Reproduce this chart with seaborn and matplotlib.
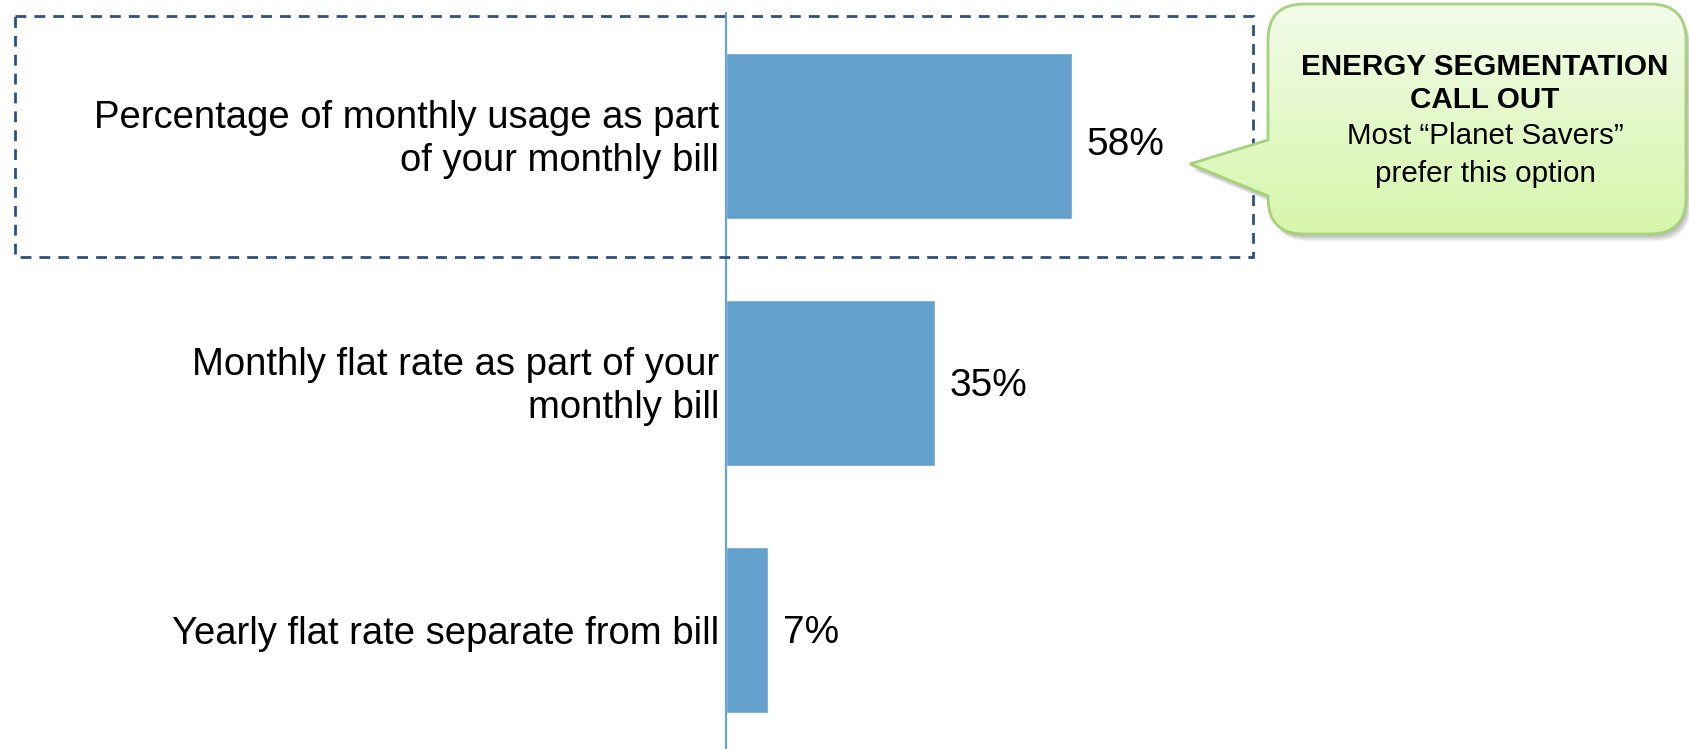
import matplotlib
matplotlib.use("Agg")
import matplotlib.pyplot as plt
import matplotlib.transforms as mtransforms
from matplotlib.path import Path
from matplotlib.patches import PathPatch, Rectangle
import numpy as np
import pandas as pd
import seaborn as sns

# Survey results: preferred way to pay for the programme
categories = [
    "Percentage of monthly usage as part\nof your monthly bill",
    "Monthly flat rate as part of your\nmonthly bill",
    "Yearly flat rate separate from bill",
]
shares = [58, 35, 7]
value_labels = ["58%", "35%", "7%"]

callout_lines = [
    ("ENERGY SEGMENTATION", "bold"),
    ("CALL OUT", "bold"),
    ("Most \u201cPlanet Savers\u201d", "normal"),
    ("prefer this option", "normal"),
]

sns.set_theme(style="white")
plt.rcParams["font.family"] = ["Liberation Sans", "DejaVu Sans"]

BAR_COLOR = "#63A0CB"
AXIS_COLOR = "#6AA4D2"
W, H = 1690, 749

fig = plt.figure(figsize=(W / 100, H / 100), dpi=100)
fig.patch.set_facecolor("white")

ax = fig.add_axes([726 / W, 1 - 753.5 / H, 596 / W, 741 / H])
df = pd.DataFrame({"option": categories, "share": shares})
sns.barplot(data=df, x="share", y="option", orient="h", color=BAR_COLOR,
            saturation=1, width=0.67, ax=ax)
ax.set_xlim(0, 100)
ax.set_ylim(2.5, -0.5)
ax.set_xlabel("")
ax.set_ylabel("")
ax.set_xticks([])
for side in ("top", "right", "bottom"):
    ax.spines[side].set_visible(False)
ax.spines["left"].set_color(AXIS_COLOR)
ax.spines["left"].set_linewidth(1.6)
ax.tick_params(axis="y", length=0, pad=5, labelsize=27.5, labelcolor="black")
lift = mtransforms.ScaledTranslation(0, 4 / 100, fig.dpi_scale_trans)
for lbl in ax.get_yticklabels():
    lbl.set_horizontalalignment("right")
    lbl.set_linespacing(1.24)
    if "\n" in lbl.get_text():
        lbl.set_transform(lbl.get_transform() + lift)
ax.patch.set_alpha(0)

texts = ax.bar_label(ax.containers[0], labels=value_labels, padding=11,
                     fontsize=28, color="black")
# nudge the value labels slightly below the bar centre line
for t, dy in zip(texts, [-9, -3, -3]):
    t.set_position((t.get_position()[0], dy * 0.72))

# Overlay in pixel coordinates for the highlight box and the speech bubble
ov = fig.add_axes([0, 0, 1, 1], zorder=5)
ov.set_xlim(0, W)
ov.set_ylim(H, 0)
ov.axis("off")
ov.patch.set_alpha(0)

# Dashed highlight around the first option
ov.add_patch(Rectangle((15, 16), 1253 - 15, 257 - 16, fill=False,
                       edgecolor="#2E5080", linewidth=2.0,
                       linestyle=(0, (3.9, 2.9))))

# Speech bubble outline
L, R, T, B, r = 1268, 1686, 4, 234, 36
tip = (1190, 164)
verts = [
    (L + r, T), (R - r, T), (R, T), (R, T + r),
    (R, B - r), (R, B), (R - r, B),
    (L + r, B), (L, B), (L, B - r),
    (L, 196), tip, (L, 140),
    (L, T + r), (L, T), (L + r, T), (L + r, T),
]
codes = [
    Path.MOVETO, Path.LINETO, Path.CURVE3, Path.CURVE3,
    Path.LINETO, Path.CURVE3, Path.CURVE3,
    Path.LINETO, Path.CURVE3, Path.CURVE3,
    Path.LINETO, Path.LINETO, Path.LINETO,
    Path.LINETO, Path.CURVE3, Path.CURVE3, Path.CLOSEPOLY,
]
bubble = Path(verts, codes)

# soft drop shadow
for k in range(8, 0, -1):
    sh = Path(np.array(verts) + np.array([k * 0.6, k * 0.9]), codes)
    ov.add_patch(PathPatch(sh, facecolor="#444444", edgecolor="none",
                           alpha=0.06))

fill = PathPatch(bubble, facecolor="none", edgecolor="none")
ov.add_patch(fill)
grad = np.linspace(0, 1, 256).reshape(-1, 1)
top_c = np.array([0.950, 0.983, 0.915])
bot_c = np.array([0.840, 0.965, 0.670])
img = top_c + (bot_c - top_c) * grad[..., None]
im = ov.imshow(img, extent=(1185, R + 2, B + 2, T - 2), aspect="auto",
               interpolation="bilinear", zorder=1)
im.set_clip_path(fill)
ov.add_patch(PathPatch(bubble, facecolor="none", edgecolor="#A6D27C",
                       linewidth=2.0, zorder=2))

cx = 1485
for (line, weight), y in zip(callout_lines, [67, 100, 136, 174]):
    ov.text(cx, y, line, ha="center", va="center", fontsize=21.3,
            fontweight=weight, color="black", zorder=3)

fig.savefig("out.png", dpi=100)
